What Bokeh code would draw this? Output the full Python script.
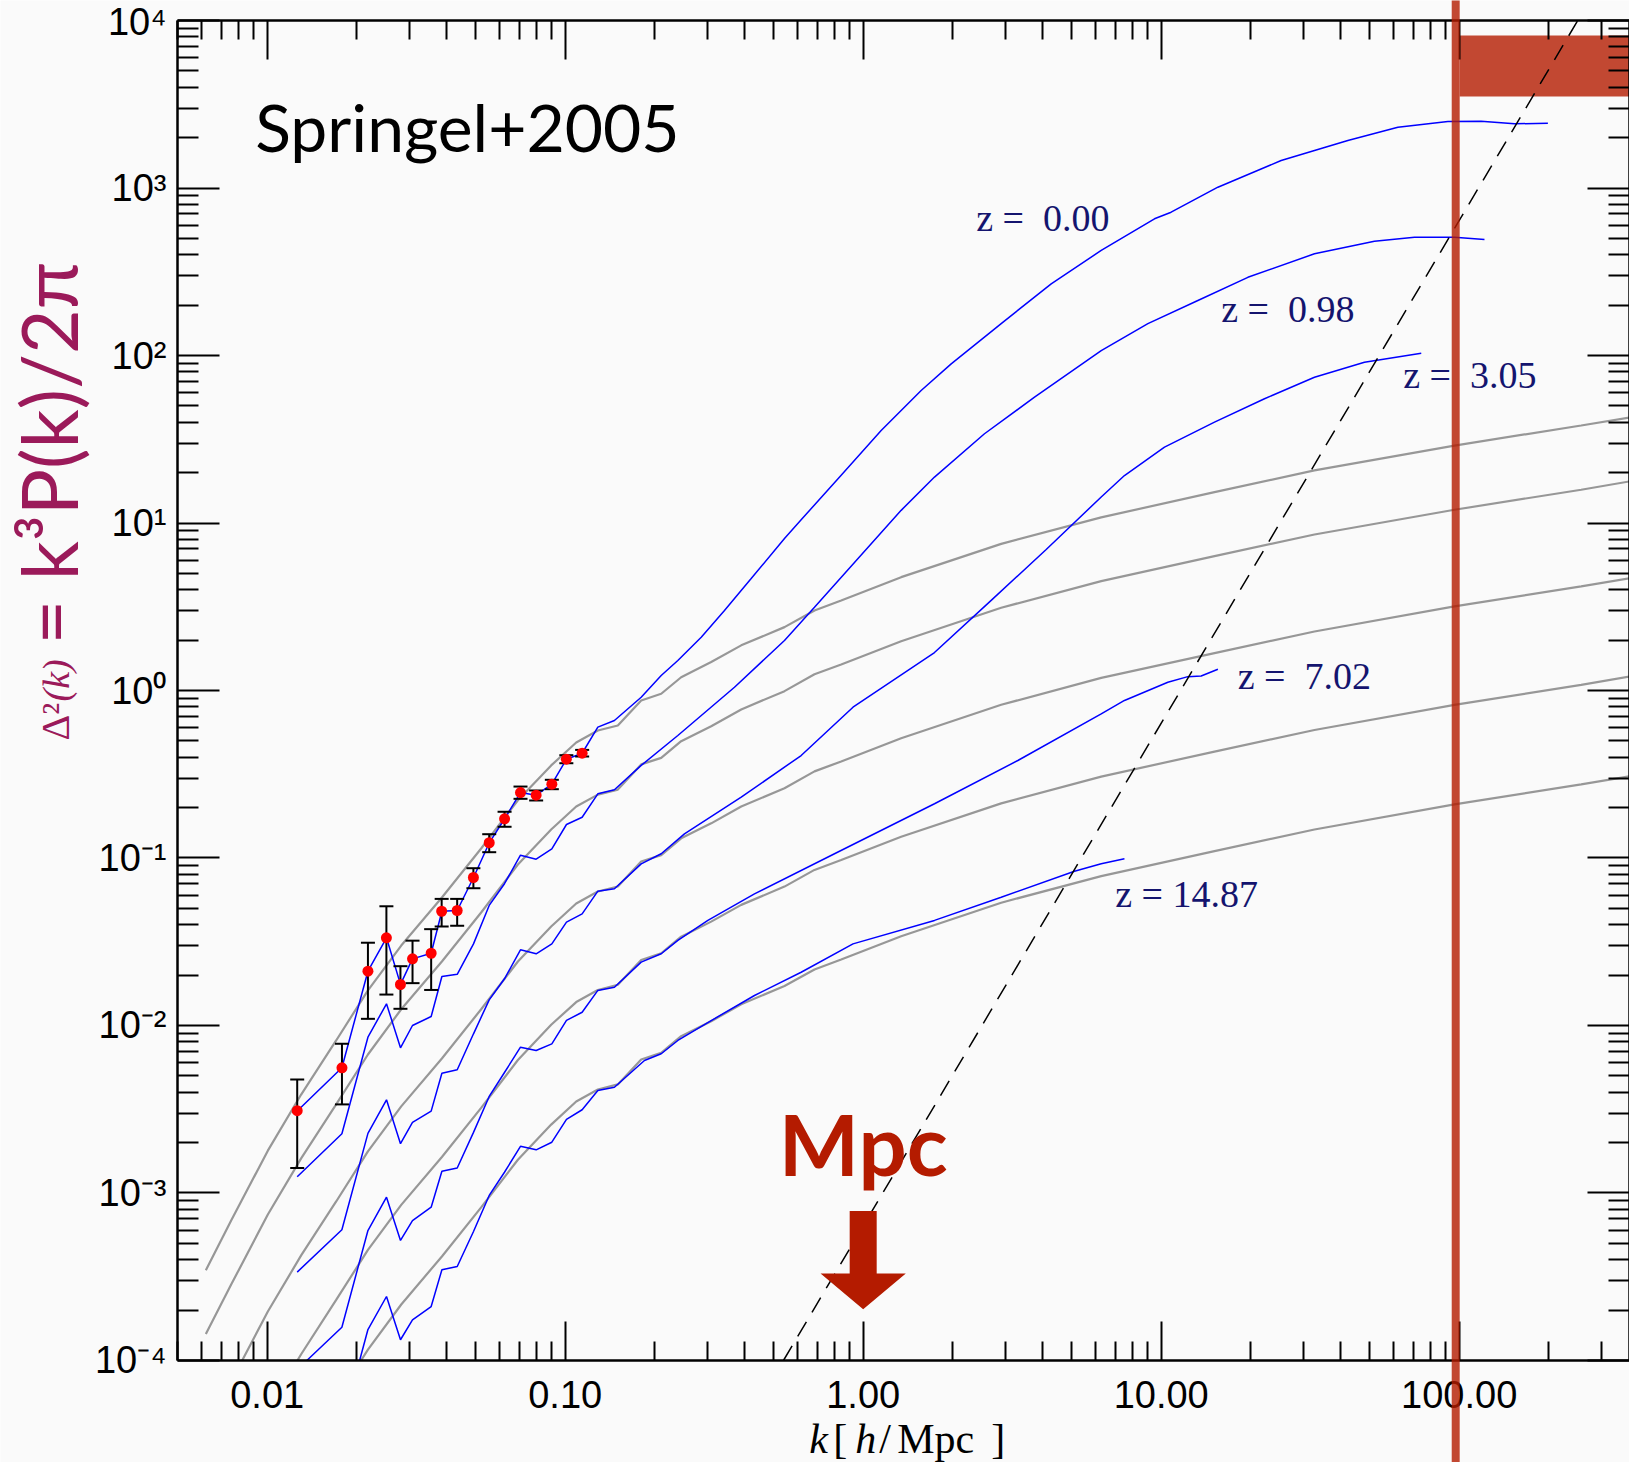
import math
from bokeh.plotting import figure
from bokeh.models import (Range1d, FixedTicker, LogAxis, Label, BoxAnnotation,
                          ColumnDataSource, CustomJSTickFormatter)
from bokeh.embed import file_html
from bokeh.resources import INLINE
from bokeh.core.properties import value

# ---------------- data ----------------
# linear theory (grey)
k_lin = [0.006225, 0.00757, 0.01005, 0.0130, 0.01704, 0.02178, 0.02817, 0.03857, 0.05224,
         0.06939, 0.08974, 0.1089, 0.1287, 0.1502, 0.1799, 0.2100, 0.2450, 0.3090, 0.3897,
         0.5444, 0.6864, 0.8436, 1.341, 2.905, 6.292, 15.10, 32.69, 96.43, 256.7, 372.0]
lin_z000 = [3.46e-4, 6.85e-4, 1.79e-3, 3.87e-3, 8.14e-3, 0.0162, 0.0300, 0.0581, 0.114, 0.221,
            0.357, 0.489, 0.577, 0.618, 0.872, 0.956, 1.20, 1.48, 1.86, 2.39, 3.00, 3.45, 4.75,
            7.51, 10.8, 15.3, 20.6, 29.0, 38.2, 42.6]
lin_z098 = [1.44e-4, 2.84e-4, 7.44e-4, 1.61e-3, 3.38e-3, 6.71e-3, 0.0125, 0.0241, 0.0473, 0.0915,
            0.148, 0.203, 0.239, 0.256, 0.362, 0.396, 0.498, 0.612, 0.771, 0.991, 1.25, 1.43, 1.97,
            3.12, 4.50, 6.34, 8.54, 12.0, 15.8, 17.7]
lin_z305 = [3.79e-5, 7.50e-5, 1.96e-4, 4.24e-4, 8.90e-4, 1.77e-3, 3.29e-3, 6.35e-3, 0.0125, 0.0241,
            0.0390, 0.0535, 0.0631, 0.0676, 0.0953, 0.104, 0.131, 0.161, 0.203, 0.261, 0.329, 0.377,
            0.519, 0.822, 1.19, 1.67, 2.25, 3.18, 4.18, 4.67]
lin_z702 = [9.79e-6, 1.94e-5, 5.07e-5, 1.09e-4, 2.30e-4, 4.57e-4, 8.49e-4, 1.64e-3, 3.22e-3, 6.22e-3,
            0.0101, 0.0138, 0.0163, 0.0175, 0.0246, 0.0270, 0.0339, 0.0417, 0.0525, 0.0675, 0.0849,
            0.0973, 0.134, 0.212, 0.306, 0.432, 0.581, 0.820, 1.08, 1.21]
lin_z1487 = [2.49e-6, 4.93e-6, 1.29e-5, 2.79e-5, 5.85e-5, 1.16e-4, 2.16e-4, 4.18e-4, 8.20e-4, 1.58e-3,
             2.56e-3, 3.52e-3, 4.15e-3, 4.45e-3, 6.27e-3, 6.87e-3, 8.63e-3, 0.0106, 0.0134, 0.0172,
             0.0216, 0.0248, 0.0341, 0.0541, 0.0780, 0.110, 0.148, 0.209, 0.275, 0.307]

# simulation (blue)
k_bins = [0.01261, 0.01781, 0.02178, 0.02514, 0.02801, 0.03073, 0.03550, 0.03857, 0.04342, 0.04924,
          0.05559, 0.06256, 0.07079, 0.07991, 0.09020, 0.1010, 0.1140, 0.1287, 0.1463]

sim_z000_k = k_bins + [0.1799, 0.2100, 0.2388, 0.2861, 0.3424, 0.4209, 0.5444, 0.6192, 0.8436, 1.149,
                       1.565, 1.974, 2.905, 4.275, 6.292, 9.496, 10.80, 15.50, 25.27, 42.31, 62.28,
                       91.65, 118.5, 153.3, 198.5]
sim_z000 = [3.09e-3, 5.59e-3, 0.0211, 0.0334, 0.0176, 0.0250, 0.0270, 0.0481, 0.0486, 0.0765, 0.123,
            0.171, 0.246, 0.237, 0.276, 0.389, 0.422, 0.604, 0.662,
            0.912, 1.23, 1.51, 2.08, 3.00, 4.66, 8.08, 10.45, 19.3, 35.7, 61.8, 89.2, 155, 268, 424,
            655, 717, 1011, 1460, 1921, 2307, 2495, 2505, 2417, 2437]

sim_z098_k = k_bins + [0.1799, 0.2388, 0.3699, 0.5444, 0.6864, 1.341, 1.735, 2.553, 3.758, 6.292,
                       9.024, 13.28, 19.54, 32.69, 51.96, 70.80, 96.43, 121.6]
sim_z098 = [1.25e-3, 2.26e-3, 8.51e-3, 0.01348, 7.36e-3, 0.0100, 0.01132, 0.0196, 0.0202, 0.0307,
            0.0521, 0.0702, 0.1039, 0.0984, 0.1135, 0.1585, 0.175, 0.2416, 0.2553,
            0.357, 0.539, 1.046, 1.99, 3.14, 11.9, 18.8, 34.1, 56.4, 107, 155, 213, 293, 405, 481,
            508, 508, 493]

sim_z305_k = k_bins + [0.1799, 0.2100, 0.2513, 0.3897, 0.6192, 0.9243, 1.735, 2.689, 4.113,
                       6.292, 7.53, 10.26, 15.10, 22.22, 32.69, 48.1, 74.6]
sim_z305 = [3.37e-4, 6.03e-4, 2.27e-3, 3.60e-3, 1.97e-3, 2.64e-3, 3.08e-3, 5.19e-3, 5.44e-3, 8.92e-3,
            0.01423, 0.0190, 0.0283, 0.0268, 0.0307, 0.0414, 0.0464, 0.0634, 0.0655,
            0.0923, 0.106, 0.1394, 0.2307, 0.409, 0.795, 1.686, 3.45, 6.95, 14.3, 19.2, 28.4,
            40.0, 55.2, 74.2, 91.2, 103]

sim_z702_k = k_bins + [0.1799, 0.2100, 0.2388, 0.3012, 0.4317, 0.8013, 1.735, 3.304, 6.292, 7.53,
                       10.53, 12.29, 13.62, 15.50]
sim_z702 = [8.82e-5, 1.58e-4, 5.97e-4, 9.44e-4, 5.21e-4, 6.85e-4, 8.23e-4, 1.35e-3, 1.41e-3, 2.30e-3,
            3.77e-3, 5.24e-3, 7.42e-3, 7.09e-3, 7.77e-3, 0.01072, 0.0120, 0.0162, 0.0169,
            0.0239, 0.0268, 0.0322, 0.0424, 0.0611, 0.106, 0.2107, 0.382, 0.726, 0.872, 1.12, 1.21,
            1.22, 1.34]

sim_z1487_k = k_bins + [0.1845, 0.2100, 0.2388, 0.3090, 0.4317, 0.6192, 0.9243, 1.735, 2.905, 5.118,
                        6.292, 7.53]
sim_z1487 = [2.21e-5, 4.04e-5, 1.53e-4, 2.41e-4, 1.33e-4, 1.75e-4, 2.10e-4, 3.48e-4, 3.64e-4, 5.89e-4,
             9.67e-4, 1.33e-3, 1.90e-3, 1.81e-3, 2.01e-3, 2.75e-3, 3.14e-3, 4.09e-3, 4.28e-3,
             6.18e-3, 6.78e-3, 8.14e-3, 0.0107, 0.0151, 0.0208, 0.0307, 0.0424, 0.0583, 0.0834,
             0.0923, 0.0989]

# z = 0 measurements with error bars (red)
pts_k = [0.01261, 0.01782, 0.02178, 0.02512, 0.0280, 0.03074, 0.0355, 0.0385, 0.0434, 0.0492,
         0.0556, 0.0626, 0.0708, 0.0799, 0.0902, 0.1009, 0.1140]
pts_d2 = [3.10e-3, 5.59e-3, 0.0211, 0.0334, 0.01757, 0.0250, 0.0270, 0.0481, 0.0486, 0.0765,
          0.1233, 0.1714, 0.246, 0.237, 0.276, 0.389, 0.4225]
pts_hi = [4.76e-3, 7.78e-3, 0.0312, 0.0515, 0.0226, 0.0321, 0.0376, 0.0570, 0.0570, 0.0869,
          0.1387, 0.1888, 0.267, 0.253, 0.293, 0.411, 0.442]
pts_lo = [1.41e-3, 3.38e-3, 0.01096, 0.0153, 0.01258, 0.0179, 0.0163, 0.0390, 0.0394, 0.0660,
          0.1083, 0.1536, 0.2256, 0.2205, 0.2575, 0.368, 0.4036]

# shot-noise limit (dashed)
shot_k = [0.54, 250.0]
shot_d2 = [1.0e-4, 1.0e4]

# redshift labels
z_labels = ["z = \u00a00.00", "z = \u00a00.98", "z = \u00a03.05", "z = \u00a07.02", "z = 14.87"]
z_label_k = [2.394, 15.90, 64.88, 18.06, 7.008]
z_label_d2 = [660.0, 189.0, 76.2, 1.217, 0.0607]

# resolution band and box
res_k_lo, res_k_hi = 94.4, 100.4
box_k = [100.4, 2000.0]
box_d2 = [3518.0, 8128.0]

# "Mpc" arrow at k = 1
arrow_k = [0.901, 1.110, 1.110, 1.390, 1.0, 0.7194, 0.901]
arrow_d2 = [7.82e-4, 7.82e-4, 3.31e-4, 3.31e-4, 2.02e-4, 3.31e-4, 3.31e-4]

x_tick_vals = [0.01, 0.1, 1.0, 10.0, 100.0]
x_tick_labels = ["0.01", "0.10", "1.00", "10.00", "100.00"]
y_tick_vals = [1e-4, 1e-3, 1e-2, 1e-1, 1e0, 1e1, 1e2, 1e3, 1e4]
y_tick_labels = ["10\u207b\u2074", "10\u207b\u00b3", "10\u207b\u00b2", "10\u207b\u00b9", "10\u2070",
                 "10\u00b9", "10\u00b2", "10\u00b3", "10\u2074"]

# plot box (data) and canvas extents
X_MIN, X_MAX = 0.005, 372.0
Y_MIN, Y_MAX = 1e-4, 1e4
CANVAS_X = (1.2736e-3, 372.9)
CANVAS_Y = (2.4604e-5, 13166.0)

# ---------------- styles ----------------
BG = "#FAFAFA"
GREY = "#979797"
BLUE = "#0000FF"
DEEPRED = "#B41B00"
MAROON = "#9B1A5A"
NAVY = "#14146E"

p = figure(width=1629, height=1462, x_axis_type="log", y_axis_type="log",
           x_range=Range1d(*CANVAS_X), y_range=Range1d(*CANVAS_Y),
           output_backend="svg", toolbar_location=None,
           min_border_left=0, min_border_right=0, min_border_top=0, min_border_bottom=0,
           background_fill_color=BG, border_fill_color=BG, outline_line_color=None)
p.grid.visible = False


def clip_low(ks, ds, lo=Y_MIN):
    xs, ys = [], []
    lk = [math.log10(v) for v in ks]
    ld = [math.log10(v) for v in ds]
    llo = math.log10(lo)
    for i in range(len(ks)):
        inside = ld[i] >= llo
        if i > 0 and inside != (ld[i - 1] >= llo):
            t = (llo - ld[i - 1]) / (ld[i] - ld[i - 1])
            xs.append(10 ** (lk[i - 1] + t * (lk[i] - lk[i - 1])))
            ys.append(lo)
            if not inside:
                xs.append(float("nan"))
                ys.append(float("nan"))
        if inside:
            xs.append(ks[i])
            ys.append(ds[i])
    return xs, ys


def minor_for(vals, lo, hi):
    out = []
    d = vals[0] / 10.0
    for _ in range(len(vals) + 2):
        for m in range(2, 10):
            t = m * d
            if lo <= t <= hi:
                out.append(t)
        d *= 10.0
    return out


def fmt(vals, labs):
    return CustomJSTickFormatter(args=dict(vals=vals, labs=labs), code="""
        let best = 0, bd = Infinity;
        for (let i = 0; i < vals.length; i++) {
            const d = Math.abs(Math.log10(vals[i]) - Math.log10(tick));
            if (d < bd) { bd = d; best = i; }
        }
        return labs[best];""")


def style(ax, vals, minor, tlen, loc, bounds, labs=None):
    ax.fixed_location = loc
    ax.bounds = bounds
    ax.ticker = FixedTicker(ticks=vals, minor_ticks=minor)
    ax.major_tick_in = tlen
    ax.major_tick_out = 0
    ax.minor_tick_in = tlen // 2
    ax.minor_tick_out = 0
    ax.axis_line_width = 2.5
    ax.major_tick_line_width = 2
    ax.minor_tick_line_width = 2
    ax.axis_line_color = "black"
    ax.major_tick_line_color = "black"
    ax.minor_tick_line_color = "black"
    if labs is None:
        ax.formatter = CustomJSTickFormatter(code="return ''")
        ax.major_label_text_font_size = "0px"
        ax.major_label_standoff = 0
    else:
        ax.formatter = fmt(vals, labs)
        ax.major_label_text_font = "Liberation Sans"
        ax.major_label_text_font_size = "38px"
        ax.major_label_text_color = "black"


x_minor = minor_for(x_tick_vals, X_MIN, X_MAX)
y_minor = minor_for(y_tick_vals, Y_MIN, Y_MAX)

style(p.xaxis[0], x_tick_vals, x_minor, 39, Y_MIN, (X_MIN, X_MAX), x_tick_labels)
p.xaxis[0].major_label_standoff = 21
style(p.yaxis[0], y_tick_vals, y_minor, 42, X_MIN, (Y_MIN, Y_MAX), y_tick_labels)
p.yaxis[0].major_label_standoff = 11

top_ax = LogAxis()
style(top_ax, x_tick_vals, x_minor, 39, Y_MAX, (X_MIN, X_MAX))
p.add_layout(top_ax, "above")
right_ax = LogAxis()
style(right_ax, y_tick_vals, y_minor, 42, X_MAX, (Y_MIN, Y_MAX))
p.add_layout(right_ax, "right")

# grey linear theory
for arr in [lin_z000, lin_z098, lin_z305, lin_z702, lin_z1487]:
    xs, ys = clip_low(k_lin, arr)
    p.line(xs, ys, line_color=GREY, line_width=2.2)

# blue simulation
for kk, arr in [(sim_z000_k, sim_z000), (sim_z098_k, sim_z098), (sim_z305_k, sim_z305),
                (sim_z702_k, sim_z702), (sim_z1487_k, sim_z1487)]:
    xs, ys = clip_low(kk, arr)
    p.line(xs, ys, line_color=BLUE, line_width=1.5)

# box at top right (under dashed line)
p.quad(left=[box_k[0]], right=[X_MAX], bottom=[box_d2[0]], top=[box_d2[1]],
       fill_color=DEEPRED, fill_alpha=0.8, line_color=None)

# shot noise
p.line(shot_k, shot_d2, line_color="black", line_width=1.5, line_dash="17 11")

# error bars + points
p.segment(x0=pts_k, y0=pts_lo, x1=pts_k, y1=pts_hi, line_color="black", line_width=2)
p.scatter(pts_k, pts_hi, marker="dash", size=14, line_color="black", line_width=2)
p.scatter(pts_k, pts_lo, marker="dash", size=14, line_color="black", line_width=2)
p.scatter(pts_k, pts_d2, size=11, fill_color="#FF0000", line_color=None)

# arrow
p.patch(arrow_k, arrow_d2, fill_color=DEEPRED, line_color=None)

# z labels
zsrc = ColumnDataSource(dict(x=z_label_k, y=z_label_d2, t=z_labels))
p.text(x="x", y="y", text="t", source=zsrc, text_font=value("Liberation Serif"),
       text_font_size="38px", text_color=NAVY, text_baseline="alphabetic", text_align="left")

# resolution band spanning the whole canvas height
band = BoxAnnotation(left=res_k_lo, right=res_k_hi, bottom=CANVAS_Y[0] / 10, top=CANVAS_Y[1] * 10,
                     fill_color=DEEPRED, fill_alpha=0.8, line_color=None, level="overlay")
p.add_layout(band)

# texts
p.add_layout(Label(x=9.115e-3, y=2328, text="Springel+2005", text_font="Lato",
                   text_font_size="66px", text_color="black", text_baseline="alphabetic"))
p.add_layout(Label(x=1.0, y=1.995e-3, text="Mpc", text_font="Lato", text_font_style="bold",
                   text_font_size="85px", text_color=DEEPRED, text_align="center",
                   text_baseline="alphabetic"))
# y-axis title
p.add_layout(Label(x=1.841e-3, y=1.882, text="= k\u00b3P(k)/2\u03c0", text_font="Lato",
                   text_font_size="77px", text_color=MAROON, angle=1.5708,
                   text_baseline="alphabetic", text_align="left"))
p.add_layout(Label(x=1.951e-3, y=0.503, text="\u0394\u00b2", text_font="Liberation Serif",
                   text_font_size="40px", text_color=MAROON, angle=1.5708,
                   text_baseline="alphabetic", text_align="left"))
p.add_layout(Label(x=1.951e-3, y=0.8596, text="(k)", text_font="Liberation Serif",
                   text_font_style="italic",
                   text_font_size="38px", text_color=MAROON, angle=1.5708,
                   text_baseline="alphabetic", text_align="left"))
# x-axis title
for xx, tt, st in [(0.6589, "k", "italic"), (0.7931, "[", "normal"), (0.9401, "h", "italic"),
                   (1.1316, "/", "normal"), (1.3006, "Mpc", "normal"), (2.689, "]", "normal")]:
    p.add_layout(Label(x=xx, y=3.42e-5, text=tt, text_font="Liberation Serif",
                       text_font_style=st, text_font_size="42px", text_color="black",
                       text_baseline="alphabetic", text_align="left"))

open("out.html", "w").write(file_html(p, INLINE))
